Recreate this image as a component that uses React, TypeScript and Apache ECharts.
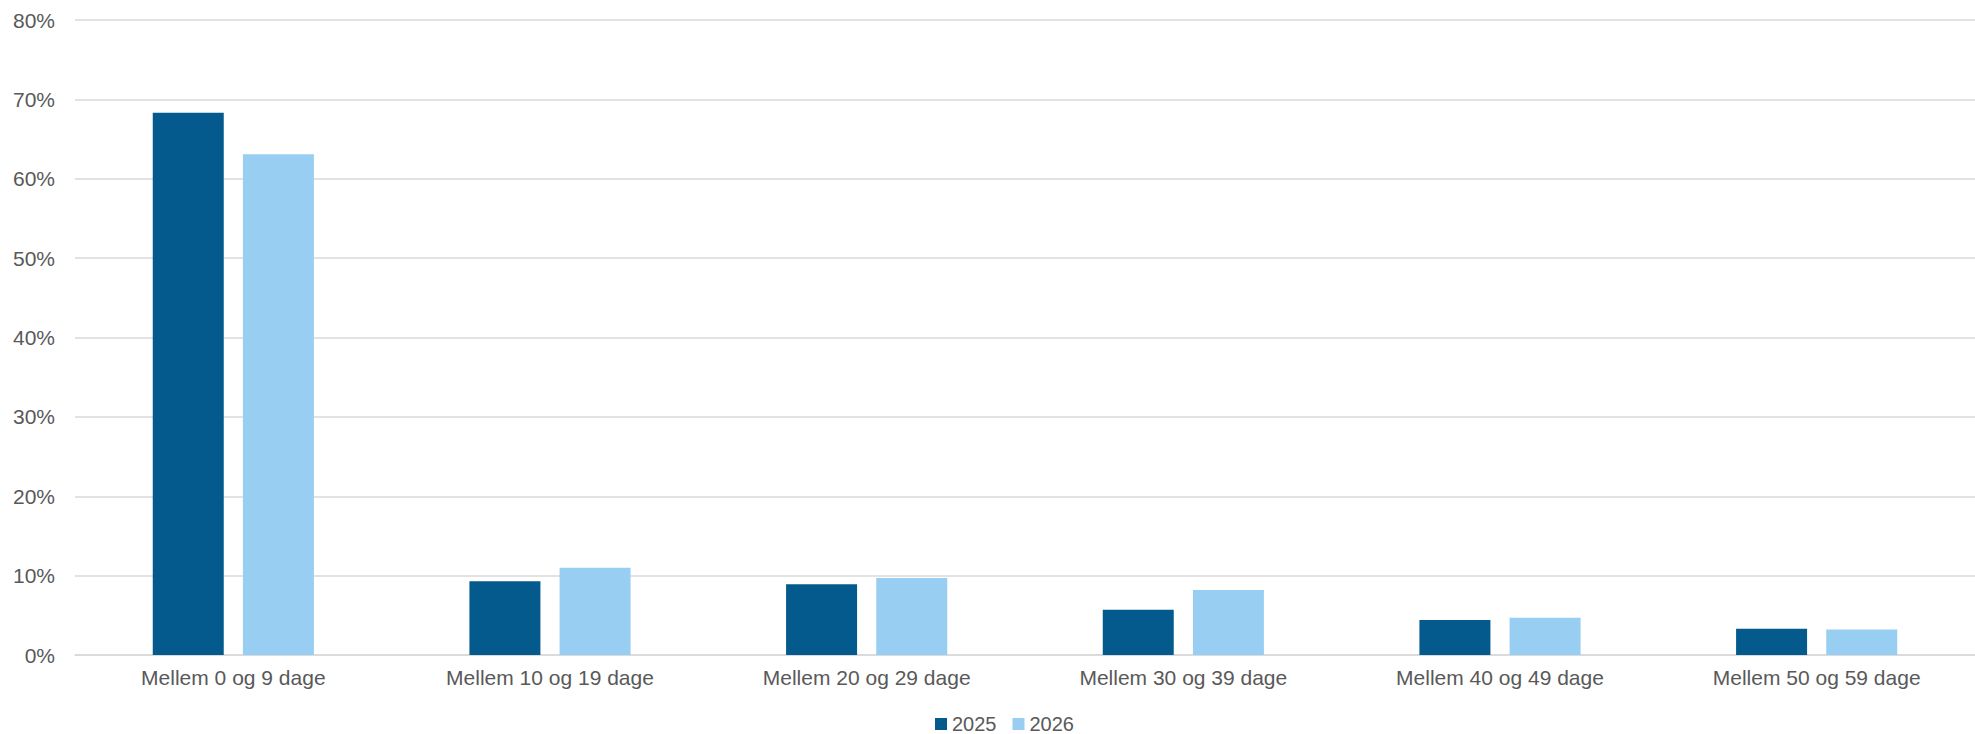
import React, { useEffect, useRef } from "react";
import * as echarts from "echarts";

const categories = [
  "Mellem 0 og 9 dage",
  "Mellem 10 og 19 dage",
  "Mellem 20 og 29 dage",
  "Mellem 30 og 39 dage",
  "Mellem 40 og 49 dage",
  "Mellem 50 og 59 dage",
];
const values2025 = [68.3, 9.3, 8.9, 5.7, 4.4, 3.3];
const values2026 = [63.1, 11.0, 9.7, 8.2, 4.7, 3.2];
const seriesNames = ["2025", "2026"];

export default function App() {
  const ref = useRef<HTMLDivElement>(null);
  useEffect(() => {
    if (!ref.current) return;
    const chart = echarts.init(ref.current, null, { renderer: "svg" });
    const font = "'Liberation Sans', Arial, sans-serif";
    chart.setOption({
      animation: false,
      backgroundColor: "#ffffff",
      textStyle: { fontFamily: font },
      grid: { left: 75, right: 0, top: 20, bottom: 79, containLabel: false },
      legend: {
        data: seriesNames,
        left: 935,
        top: 714,
        padding: 0,
        itemWidth: 12,
        itemHeight: 12,
        itemGap: 16,
        icon: "rect",
        textStyle: { color: "#595959", fontSize: 20, lineHeight: 17, fontFamily: font },
      },
      xAxis: {
        type: "category",
        data: categories,
        axisLine: { show: true, lineStyle: { color: "#D9D9D9", width: 1.5 } },
        axisTick: { show: false },
        axisLabel: { color: "#595959", fontSize: 21, margin: 12, fontFamily: font },
      },
      yAxis: {
        type: "value",
        min: 0,
        max: 80,
        interval: 10,
        axisLine: { show: false },
        axisTick: { show: false },
        splitLine: { lineStyle: { color: "#D9D9D9", width: 1.5 } },
        axisLabel: {
          color: "#595959",
          fontSize: 21,
          margin: 20,
          fontFamily: font,
          formatter: (v: number) => `${v}%`,
        },
      },
      series: [
        {
          name: seriesNames[0],
          type: "bar",
          data: values2025,
          barWidth: 71,
          barGap: "27%",
          itemStyle: { color: "#045A8D" },
        },
        {
          name: seriesNames[1],
          type: "bar",
          data: values2026,
          barWidth: 71,
          itemStyle: { color: "#97CEF2" },
        },
      ],
    });
    return () => chart.dispose();
  }, []);
  return (
    <div
      ref={ref}
      style={{ position: "fixed", left: 0, top: 0, width: 1975, height: 734 }}
    />
  );
}
